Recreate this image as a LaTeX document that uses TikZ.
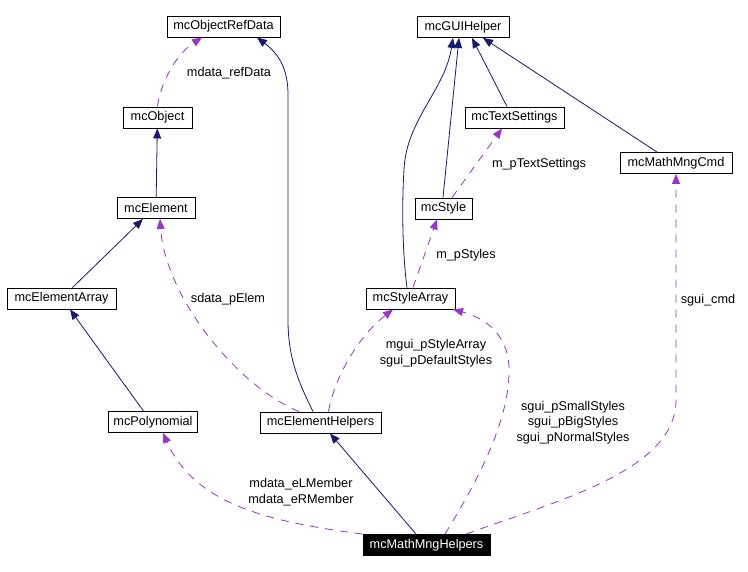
\documentclass[tikz,border=0pt]{standalone}
\usepackage{fontspec}
\setmainfont{Liberation Sans}
\usetikzlibrary{arrows.meta}
\definecolor{inhcol}{HTML}{191970}
\definecolor{usecol}{HTML}{9A32CD}
\begin{document}
\begin{tikzpicture}[x=1pt,y=-1pt,
 cls/.style={draw=black, line width=0.9pt, inner sep=0pt, minimum height=21pt, font=\fontsize{12.7}{15}\selectfont, fill=white},
 lbl/.style={inner sep=0pt, font=\fontsize{12.7}{15.5}\selectfont, align=center},
 inh/.style={draw=inhcol, line width=0.8pt, -{Triangle[length=10pt,width=8pt]}},
 use/.style={draw=usecol, line width=0.8pt, dash pattern=on 8pt off 7pt, -{Triangle[length=10pt,width=8pt]}}]
\useasboundingbox[fill=white] (0,0) rectangle (748,572);

% classes
\node[cls, minimum width=113pt] (mcObjectRefData) at (223.5,26.5) {mcObjectRefData};
\node[cls, minimum width=92pt] (mcGUIHelper) at (463,27) {mcGUIHelper};
\node[cls, minimum width=69pt] (mcObject) at (157.5,117.5) {mcObject};
\node[cls, minimum width=99pt] (mcTextSettings) at (514.5,117.5) {mcTextSettings};
\node[cls, minimum width=112pt] (mcMathMngCmd) at (676,163) {mcMathMngCmd};
\node[cls, minimum width=78pt] (mcElement) at (156,208) {mcElement};
\node[cls, minimum width=57pt] (mcStyle) at (443.5,208.5) {mcStyle};
\node[cls, minimum width=109pt] (mcElementArray) at (61.5,298.5) {mcElementArray};
\node[cls, minimum width=89pt] (mcStyleArray) at (410.5,298.5) {mcStyleArray};
\node[cls, minimum width=89pt] (mcPolynomial) at (153,422) {mcPolynomial};
\node[cls, minimum width=121pt] (mcElementHelpers) at (320.5,422.5) {mcElementHelpers};
\node[cls, minimum width=127pt, fill=black, text=white] (mcMathMngHelpers) at (426.5,545) {mcMathMngHelpers};

% inheritance (navy)
\draw[inh] (mcElement) -- (mcObject);
\draw[inh] ([xshift=-7.5pt]mcElementHelpers.north) .. controls (300,385) and (288,360) .. (288,320) -- (288,95) .. controls (288,70) and (280,55) .. ([xshift=33.5pt]mcObjectRefData.south);
\draw[inh] ([xshift=11pt]mcElementArray.north) -- ([xshift=-13pt]mcElement.south);
\draw[inh] ([xshift=-9.5pt]mcPolynomial.north) -- ([xshift=8.5pt]mcElementArray.south);
\draw[inh] ([xshift=-3.5pt]mcStyleArray.north) .. controls (402,250) and (402,200) .. (404,170) .. controls (406,120) and (445,90) .. ([xshift=-10pt]mcGUIHelper.south);
\draw[inh] ([xshift=-0.5pt]mcStyle.north) -- ([xshift=-4pt]mcGUIHelper.south);
\draw[inh] ([xshift=-7.5pt]mcTextSettings.north) -- ([xshift=9pt]mcGUIHelper.south);
\draw[inh] ([xshift=-19pt]mcMathMngCmd.north) -- ([xshift=20pt]mcGUIHelper.south);
\draw[inh] ([xshift=-10.5pt]mcMathMngHelpers.north) -- ([xshift=9.5pt]mcElementHelpers.south);

% usage (purple dashed)
\draw[use] (mcObject.north) .. controls (160,85) and (175,55) .. ([xshift=-21.5pt]mcObjectRefData.south);
\draw[use] ([xshift=-21.5pt]mcElementHelpers.north) .. controls (235,385) and (165,295) .. ([xshift=4pt]mcElement.south);
\draw[use] ([xshift=8pt]mcElementHelpers.north) .. controls (335,375) and (360,335) .. ([xshift=-17.5pt]mcStyleArray.south);
\draw[use] ([xshift=8.5pt]mcStyle.north) -- ([xshift=-12.5pt]mcTextSettings.south);
\draw[use] ([xshift=2.5pt]mcStyleArray.north) -- ([xshift=-6.5pt]mcStyle.south);
\draw[use] ([xshift=18.5pt]mcMathMngHelpers.north) .. controls (478,480) and (507,425) .. (509,375) .. controls (511,335) and (485,318) .. ([xshift=42.5pt]mcStyleArray.south);
\draw[use] ([xshift=39.5pt]mcMathMngHelpers.north) .. controls (560,500) and (676,470) .. (676,400) -- (mcMathMngCmd.south);
\draw[use] (mcMathMngHelpers.north west) .. controls (270,522) and (195,505) .. ([xshift=10pt]mcPolynomial.south);

% labels
\node[lbl] (l1) at (229,73) {mdata\_refData};
\node[lbl] (l2) at (539,164) {m\_pTextSettings};
\node[lbl] (l3) at (466,255) {m\_pStyles};
\node[lbl] (l4) at (228,299) {sdata\_pElem};
\node[lbl] (l5) at (708,300) {sgui\_cmd};
\node[lbl] (l6) at (436,353) {mgui\_pStyleArray\\sgui\_pDefaultStyles};
\node[lbl] (l7) at (573,422.5) {sgui\_pSmallStyles\\sgui\_pBigStyles\\sgui\_pNormalStyles};
\node[lbl] (l8) at (301,492) {mdata\_eLMember\\mdata\_eRMember};
\end{tikzpicture}
\end{document}
